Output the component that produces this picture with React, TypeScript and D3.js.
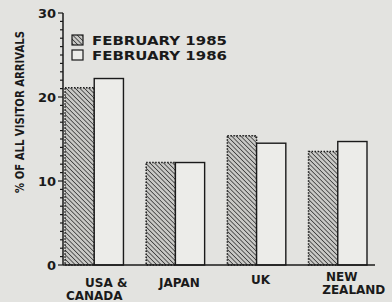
import * as d3 from "d3";

const categories = ["USA & CANADA", "JAPAN", "UK", "NEW ZEALAND"];
const labelLines = [["USA &", "CANADA"], ["JAPAN"], ["UK"], ["NEW", "ZEALAND"]];
const feb1985 = [21.1, 12.2, 15.4, 13.5];
const feb1986 = [22.2, 12.2, 14.5, 14.7];
const seriesNames = ["FEBRUARY 1985", "FEBRUARY 1986"];
const majorTicks = [0, 10, 20, 30];

export default function App() {
  const width = 392,
    height = 302;
  const font = "'DejaVu Sans', Arial, sans-serif";
  const bg = "#e3e3e0";
  const ink = "#1a1a1a";

  const y = d3.scaleLinear().domain([0, 30]).range([265, 13]);
  const x0 = d3.scaleBand().domain(categories).range([65, 367]).paddingInner(0.28);
  const x1 = d3.scaleBand().domain(seriesNames).range([0, x0.bandwidth()]);
  const minorTicks = d3.range(0, 31, 1);
  const axisX = 63;

  return (
    <svg width={width} height={height} style={{ position: "absolute", left: 0, top: 0, background: bg }}>
      <defs>
        <pattern id="hatch" width="3.2" height="3.2" patternUnits="userSpaceOnUse" patternTransform="rotate(-45)">
          <rect width="3.2" height="3.2" fill="#c9c9c6" />
          <line x1="0" y1="0" x2="0" y2="3.2" stroke="#2a2a2a" strokeWidth="1.4" />
        </pattern>
      </defs>
      <rect width={width} height={height} fill={bg} />

      {/* bars */}
      {categories.map((c, i) => {
        const gx = x0(c)!;
        const w = x1.bandwidth();
        return (
          <g key={c}>
            <rect
              x={gx + x1(seriesNames[0])!}
              y={y(feb1985[i])}
              width={w}
              height={y(0) - y(feb1985[i])}
              fill="url(#hatch)"
              stroke={ink}
              strokeWidth={1.5}
              strokeDasharray="1.5,1.5"
            />
            <rect
              x={gx + x1(seriesNames[1])!}
              y={y(feb1986[i])}
              width={w}
              height={y(0) - y(feb1986[i])}
              fill="#ecece9"
              stroke={ink}
              strokeWidth={1.4}
            />
          </g>
        );
      })}

      {/* y axis */}
      <line x1={axisX} x2={axisX} y1={y(30)} y2={y(0)} stroke={ink} strokeWidth={1.5} />
      {minorTicks.map((t) => (
        <line key={t} x1={axisX - (t % 10 === 0 ? 5 : 3)} x2={axisX} y1={y(t)} y2={y(t)} stroke={ink} strokeWidth={1.2} />
      ))}
      {majorTicks.map((t) => (
        <text key={t} x={axisX - 7} y={y(t)} dy="0.36em" textAnchor="end" fontFamily={font} fontWeight="bold" fontSize={13} fill={ink}>
          {t}
        </text>
      ))}
      <line x1={axisX} x2={375} y1={y(0)} y2={y(0)} stroke={ink} strokeWidth={1.5} />

      <text
        transform={`translate(24,112) rotate(-90)`}
        textAnchor="middle"
        fontFamily={font}
        fontWeight="bold"
        fontSize={12}
        fill={ink}
        textLength={162}
        lengthAdjust="spacingAndGlyphs"
      >
        % OF ALL VISITOR ARRIVALS
      </text>

      {/* category labels */}
      {categories.map((c, i) => {
        const cx = x0(c)! + x0.bandwidth() / 2 + 4;
        const lines = labelLines[i];
        const top = i === 3 ? 277 : i === 2 ? 280 : 283;
        return (
          <text key={c} textAnchor="middle" fontFamily={font} fontWeight="bold" fontSize={12} fill={ink}>
            {lines.map((l, j) => (
              <tspan key={l} x={cx + (i === 3 && j === 1 ? 12 : 0) + (i === 0 && j === 0 ? 8 : 0) - (i === 0 && j === 1 ? 4 : 0)} y={top + j * 13} dy="0.36em">
                {l}
              </tspan>
            ))}
          </text>
        );
      })}

      {/* legend */}
      {seriesNames.map((s, i) => (
        <g key={s} transform={`translate(72,${35 + i * 15})`}>
          <rect width={11} height={10} fill={i === 0 ? "url(#hatch)" : "#ecece9"} stroke={ink} strokeWidth={1.2} />
          <text x={20} y={5} dy="0.36em" fontFamily={font} fontWeight="bold" fontSize={12.5} fill={ink} textLength={135} lengthAdjust="spacingAndGlyphs">
            {s}
          </text>
        </g>
      ))}
    </svg>
  );
}
